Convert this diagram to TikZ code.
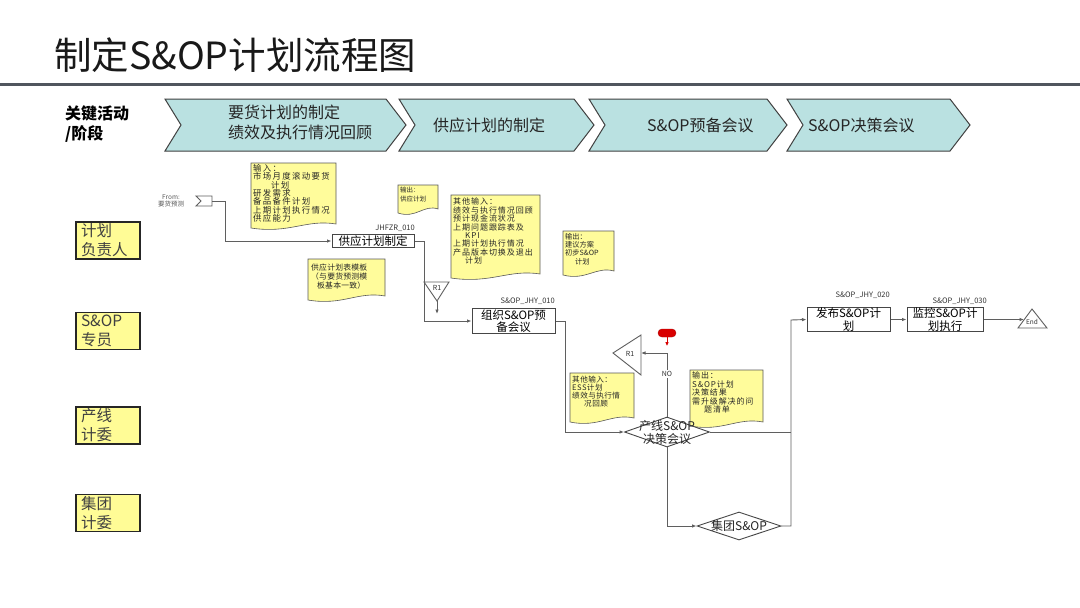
\documentclass[tikz,border=0pt]{standalone}
\usepackage{fontspec}
\setmainfont{Noto Sans CJK SC}
\usetikzlibrary{arrows.meta,shapes.geometric,calc}
\definecolor{chevfill}{RGB}{186,225,225}
\definecolor{noteyel}{RGB}{255,252,155}
\definecolor{laneyel}{RGB}{255,252,150}
\definecolor{lineg}{RGB}{95,95,95}
\definecolor{edgeg}{RGB}{70,70,70}
\definecolor{titleline}{RGB}{80,86,94}
\newcommand{\docnote}[4]{%
  \pgfmathsetmacro\dnw{#3-#1}%
  \draw[notestyle] (#1,#2) -- (#3,#2) -- (#3,#4-4)
    .. controls +(-0.35*\dnw,-5) and +(0.45*\dnw,6) .. (#1,#4) -- cycle;}
\newcommand{\chevpath}[2]{%
  \draw[chevstyle] (#1,99) -- (#2,99) -- (#2+20,125) -- (#2,151) -- (#1,151) -- (#1+16,125) -- cycle;}
\tikzset{
 flow/.style={draw=lineg, line width=0.9},
 arr/.style={flow, -{Latex[length=4.5pt,width=3.5pt]}},
 procbox/.style={draw=edgeg, line width=1, fill=white, inner sep=0.5, align=center, font=\fontsize{11.5}{12.5}\selectfont},
 idlbl/.style={font=\fontsize{7.5}{8}\selectfont, text=black!80, inner sep=0},
 notestyle/.style={draw=gray!70!black, line width=0.6, fill=noteyel},
 notetext/.style={anchor=north west, align=left, inner sep=0, text=black!85},
 chevstyle/.style={draw=black!75, line width=1, fill=chevfill},
 chevtext/.style={font=\fontsize{16}{20}\selectfont, text=black!85, align=left, inner sep=0},
 lanebox/.style={draw=black!85, line width=1.3, fill=laneyel, minimum width=64, minimum height=37, inner sep=0, text width=54, align=left, font=\fontsize{15.5}{19}\selectfont, text=black!75},
 diastyle/.style={diamond, draw=edgeg, line width=0.9, fill=white, inner sep=0},
 dialbl/.style={font=\fontsize{12}{13}\selectfont, align=center, inner sep=0, text=black!85},
 small/.style={font=\fontsize{7}{8}\selectfont, inner sep=0, text=black!80},
}
\begin{document}
\begin{tikzpicture}[x=1pt,y=-1pt]
\useasboundingbox (0,0) rectangle (1080,608);
\fill[white] (0,0) rectangle (1080,608);
% title
\node[anchor=base west, inner sep=0, font=\fontsize{37.5}{42}\selectfont, text=black!90] (title) at (54,69) {制定S\&OP计划流程图};
\draw[titleline, line width=3] (0,84.5) -- (1080,84.5);
% header
\node[anchor=west, align=left, inner sep=0, font=\bfseries\fontsize{16}{20}\selectfont] (keyact) at (65,124) {关键活动\\/阶段};
\chevpath{165}{386}
\chevpath{399}{574}
\chevpath{589}{767}
\chevpath{787}{950}
\node[chevtext, anchor=west] (c1) at (228,122) {要货计划的制定\\绩效及执行情况回顾};
\node[chevtext, anchor=west] (c2) at (433,125) {供应计划的制定};
\node[chevtext, anchor=west] (c3) at (647,125) {S\&OP预备会议};
\node[chevtext, anchor=west] (c4) at (808,125) {S\&OP决策会议};
% lanes
\node[lanebox] (lane1) at (108,240.5) {计划\\负责人};
\node[lanebox] (lane2) at (108,331) {S\&OP\\专员};
\node[lanebox] (lane3) at (108,425.5) {产线\\计委};
\node[lanebox] (lane4) at (108,513) {集团\\计委};
% notes
\docnote{251}{163}{336}{228}
\node[notetext, font=\fontsize{8.4}{8.4}\selectfont\addfontfeature{LetterSpace=16}] (n1) at (253,164) {输入：\\市场月度滚动要货\\\hspace*{18pt}计划\\研发需求\\备品备件计划\\上期计划执行情况\\供应能力};
\docnote{398}{185}{438}{213}
\node[notetext, font=\fontsize{6.5}{9}\selectfont] (n2) at (400,187) {输出：\\供应计划};
\docnote{451}{195}{540}{278}
\node[notetext, font=\fontsize{8}{8.4}\selectfont\addfontfeature{LetterSpace=12}] (n3) at (453,198) {其他输入：\\绩效与执行情况回顾\\预计现金流状况\\上期问题跟踪表及\\\hspace*{12pt}KPI\\上期计划执行情况\\产品版本切换及退出\\\hspace*{12pt}计划};
\docnote{563}{231}{614}{275}
\node[notetext, font=\fontsize{7.2}{8.3}\selectfont] (n4) at (565,233) {输出：\\建议方案\\初步S\&OP\\\hspace*{10pt}计划};
\docnote{308}{259}{385}{300}
\node[notetext, font=\fontsize{7.8}{9}\selectfont\addfontfeature{LetterSpace=3}] (n5) at (311,264) {供应计划表模板\\（与要货预测模\\\hspace*{6pt}板基本一致）};
\docnote{570}{373}{634}{422}
\node[notetext, font=\fontsize{7.6}{7.8}\selectfont\addfontfeature{LetterSpace=6}] (n6) at (572,376) {其他输入：\\ESS计划\\绩效与执行情\\\hspace*{12pt}况回顾};
\docnote{690}{370}{763}{426}
\node[notetext, font=\fontsize{8}{8.5}\selectfont\addfontfeature{LetterSpace=11}] (n7) at (692,372) {输出：\\S\&OP计划\\决策结果\\需升级解决的问\\\hspace*{12pt}题清单};
% start
\node[small, font=\fontsize{6.5}{7.5}\selectfont, align=center, text=black!65] (fromtxt) at (171,201) {From:\\要货预测};
\draw[flow, fill=white] (196,196) -- (212,196) -- (212,206) -- (196,206) -- (201,201) -- cycle;
\coordinate (offp) at (212,201);
% process boxes
\node[procbox, minimum width=82, minimum height=13] (box1) at (373,241) {供应计划制定};
\node[idlbl, anchor=south east] (id1) at (415,232) {JHFZR\_010};
\node[procbox, minimum width=83, minimum height=24] (box2) at (513.5,321) {组织S\&OP预\\备会议};
\node[idlbl, anchor=south east] (id2) at (555,305) {S\&OP\_JHY\_010};
\node[procbox, minimum width=83, minimum height=23] (box3) at (848.5,319.5) {发布S\&OP计\\划};
\node[idlbl, anchor=south east] (id3) at (890,299) {S\&OP\_JHY\_020};
\node[procbox, minimum width=76, minimum height=23] (box4) at (945,319.5) {监控S\&OP计\\划执行};
\node[idlbl, anchor=south east] (id4) at (987,305) {S\&OP\_JHY\_030};
% decisions
\node[diastyle, minimum width=85, minimum height=30] (dia1) at (667,432) {};
\node[dialbl] (dia1t) at (667,432) {产线S\&OP\\决策会议};
\node[diastyle, minimum width=84, minimum height=28] (dia2) at (739,526) {};
\node[dialbl] (dia2t) at (739,526) {集团S\&OP};
% R1 down triangle
\draw[flow, fill=white] (424,282) -- (449,282) -- (437,301) -- cycle;
\node[small] (r1a) at (437,288) {R1};
\coordinate (r1tip) at (437,301);
\coordinate (r1end) at (437,314);
\draw[arr] (r1tip) -- (r1end);
% R1 left triangle
\draw[flow, fill=white] (613,353) -- (641,335) -- (641,375) -- cycle;
\node[small] (r1b) at (630,354) {R1};
\coordinate (r1in) at (641,353);
% red marker
\node[draw=red!70!black, fill=red!85!black, rounded corners=4, minimum width=18, minimum height=8, inner sep=0] (redo) at (667,333) {};
\draw[red!85!black, line width=0.9, -{Latex[length=4pt,width=3.5pt]}] (redo.south) -- ++(0,9);
% end triangle
\draw[flow, fill=white] (1018,328) -- (1032,309) -- (1047,328) -- cycle;
\node[small, font=\fontsize{6.5}{7}\selectfont] (endl) at (1032,322) {End};
\coordinate (endin) at (1024,319.5);
\coordinate (bus) at (791,320);
% connectors
\draw[arr] (offp) -- ++(13,0) |- (box1.west);
\draw[arr] (box1.east) -- ++(10,0) |- (box2.west);
\draw[arr] (box2.east) -- ++(10,0) |- (dia1.west);
\draw[arr] (dia1.north) -- node[pos=0.67, fill=white, small, inner sep=1] (nolbl) {NO} (dia1.north |- r1in) -- (r1in);
\draw[arr] (dia1.south) |- (dia2.west);
\draw[flow] (dia1.east) -- (dia1.east -| bus);
\draw[arr] (dia2.east) -| (bus) -- (box3.west);
\draw[arr] (box3.east) -- (box4.west);
\draw[arr] (box4.east) -- (endin);
\end{tikzpicture}
\end{document}
